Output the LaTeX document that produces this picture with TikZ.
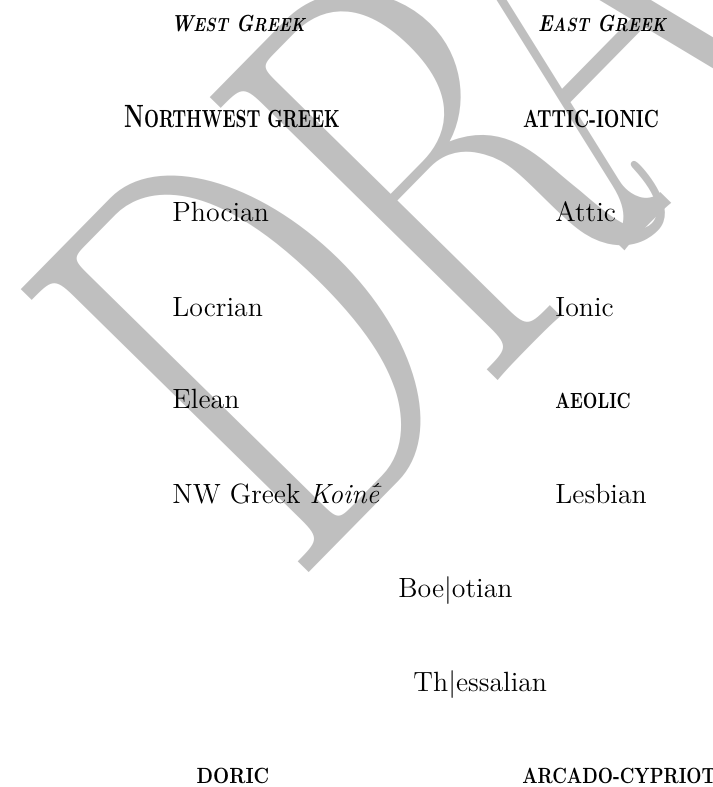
\documentclass[tikz,border=0pt]{standalone}
\usepackage{fontspec}
\usetikzlibrary{positioning}

% sizes in pt for the fake small caps
\newcommand{\sz}[2]{{\fontsize{#1}{#1}\selectfont #2}}
\newcommand{\koine}{\textit{Koin\={e}\llap{\raisebox{0.32ex}{\sz{10}{´}}\hspace{0.02em}}}}

\begin{document}
\begin{tikzpicture}[x=0.4314pt, y=-0.4314pt,
 font=\fontsize{12}{14}\selectfont]
\tikzset{
	dialect/.style={inner sep=0pt, anchor=base west},
	groupHead/.style={inner sep=0pt, anchor=base, font=\bfseries},
	boldCaps/.style={inner sep=0pt, font=\bfseries, xscale=#1},
	watermark/.style={inner sep=0pt, anchor=base west, text=lightgray,
		font=\fontsize{255}{255}\selectfont}
}

\useasboundingbox (0,0) rectangle (712,787);

%watermark
\begin{scope}
\clip (0,0) rectangle (712,787);
\node[watermark, rotate=45.5, xscale=0.68] (WM) at (294,588) {D\kern-0.035em R\kern-0.2em AFT};
\end{scope}

%--------------------------- headings ------------
\node[groupHead, font=\bfseries\itshape, xscale=0.83] (WG) at (238,32) {W\sz{8.2}{EST} G\sz{8.2}{REEK}};
\node[groupHead, font=\bfseries\itshape, xscale=0.83] (EG) at (602,32) {E\sz{8.2}{AST} G\sz{8.2}{REEK}};

\node[groupHead, xscale=0.7] (NWG) at (232,128) {\sz{13.9}{N}\sz{10.7}{ORTHWEST GREEK}};
\node[groupHead, xscale=0.73] (AI) at (591,128) {\sz{10.7}{ATTIC-IONIC}};

%--------------------------- dialects ------------
\node[dialect] (PHO) at (172,222) {Phocian};
\node[dialect] (LOC) at (172,316) {Locrian};
\node[dialect] (ELE) at (172,408) {Elean};
\node[dialect] (NWK) at (172,503) {NW Greek \koine};

\node[dialect] (ATT) at (555,222) {Attic};
\node[dialect] (ION) at (555,316) {Ionic};
\node[dialect, boldCaps=0.77] (AEO) at (555,408) {\sz{9.5}{AEOLIC}};
\node[dialect] (LES) at (555,503) {Lesbian};

\node[dialect] (BOE) at (398,597) {Boe|otian};
\node[dialect] (THE) at (413,691) {Th|essalian};

%---------------- bottom row ------------
\node[groupHead, xscale=0.85] (DOR) at (233,783) {\sz{9.5}{DORIC}};
\node[dialect, boldCaps=0.80] (ARC) at (522,783) {\sz{9.5}{ARCADO-CYPRIOT}};

\end{tikzpicture}
\end{document}
